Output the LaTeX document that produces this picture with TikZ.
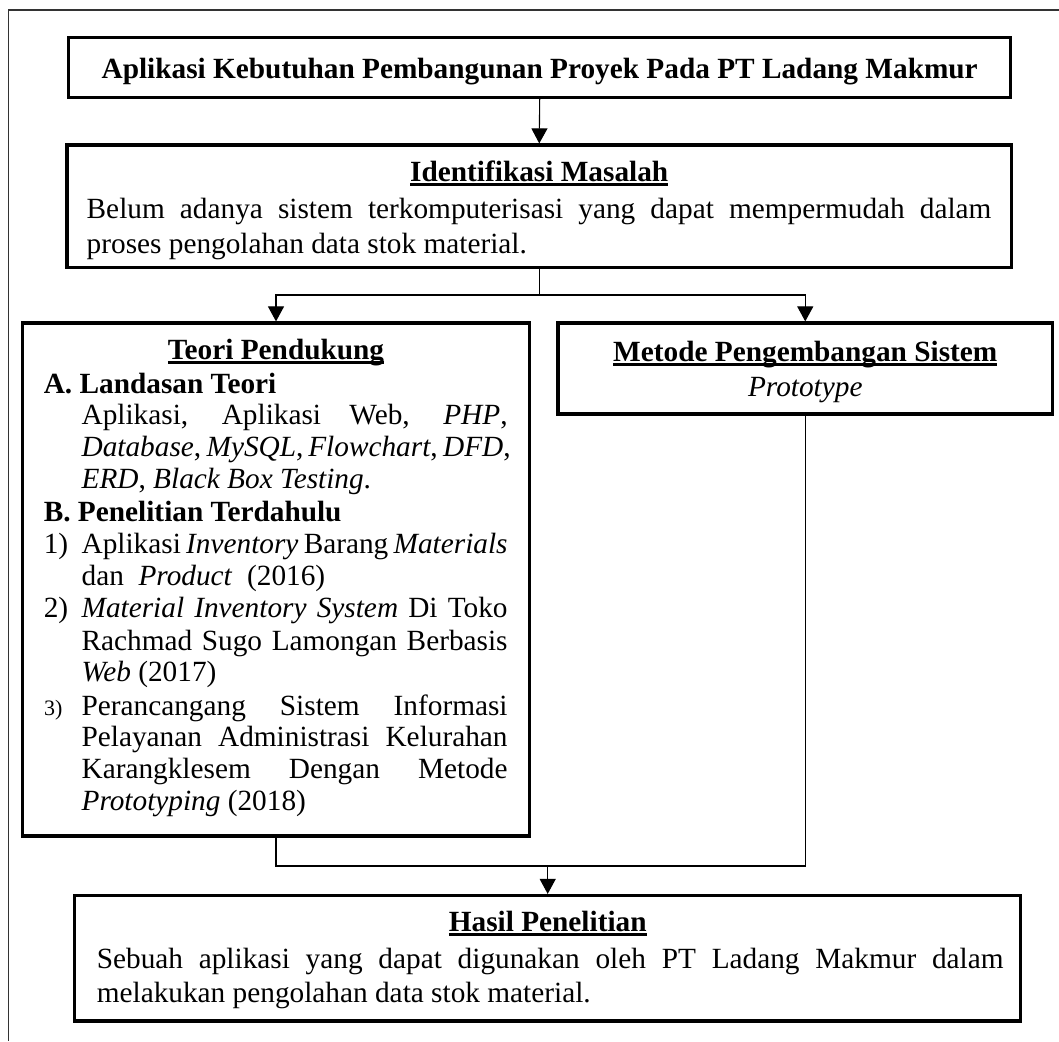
\documentclass[tikz,border=0pt]{standalone}
\usepackage{fontspec}
\setmainfont{Liberation Serif}
\usetikzlibrary{arrows.meta}

% heading underline: a thick rule just below the baseline
\newsavebox\ulbox
\newcommand\hul[1]{\sbox\ulbox{#1}\rlap{\vrule height -1.5pt depth 4pt width \wd\ulbox}\usebox\ulbox}
% one justified line of the given width
\newcommand\jline[2]{\makebox[#1][s]{#2}}

\begin{document}
\begin{tikzpicture}[x=1pt, y=-1pt,
  frameline/.style={draw=black!80, line width=1.6pt},
  boxn/.style={draw, line width=3.2pt, inner sep=0pt, rectangle},
  txt/.style={inner sep=0pt, anchor=base west, font=\fontsize{29.3}{32}\selectfont},
  ctr/.style={txt, anchor=base},
  small/.style={txt, font=\fontsize{22}{26}\selectfont},
  link/.style={line width=1.1pt},
  arr/.style={link, -{Triangle[length=15pt,width=16pt]}},
]
\useasboundingbox (0,0) rectangle (1059,1041);

% outer frame (open to the right and bottom)
\draw[frameline] (1059,10) -- (8.3,10) -- (8.3,1041);

% boxes
\node[boxn, minimum width=942pt, minimum height=59.6pt] (title) at (539.7,67.5) {};
\node[boxn, minimum width=944.5pt, minimum height=122.5pt] (ident) at (539.25,206.25) {};
\node[boxn, minimum width=507pt, minimum height=513pt] (teori) at (276,579.5) {};
\node[boxn, minimum width=494.5pt, minimum height=91pt] (metode) at (805.25,368.5) {};
\node[boxn, minimum width=946pt, minimum height=125.5pt] (hasil) at (547.7,958.25) {};

% title
\node[ctr] (titletxt) at (539.7,78) {\bfseries Aplikasi Kebutuhan Pembangunan Proyek Pada PT Ladang Makmur};

% problem identification
\node[ctr] (identhead) at (539.25,181.5) {\bfseries\hul{Identifikasi Masalah}};
\node[txt] (identl1) at (86.5,218) {\jline{904.7pt}{Belum adanya sistem terkomputerisasi yang dapat mempermudah dalam}};
\node[txt] (identl2) at (86.5,253) {proses pengolahan data stok material.};

% supporting theory
\node[ctr] (teorihead) at (276,359.5) {\bfseries\hul{Teori Pendukung}};
\node[txt] (secA) at (43.6,393) {\bfseries A. Landasan Teori};
\node[txt] (a1) at (81.4,424.5) {\jline{426pt}{Aplikasi, Aplikasi Web, \textit{PHP},}};
\node[txt] (a2) at (81.4,456.5) {\jline{426pt}{\textit{Database}, \textit{MySQL}, \textit{Flowchart}, \textit{DFD},}};
\node[txt] (a3) at (81.4,488.5) {\textit{ERD}, \textit{Black Box Testing}.};
\node[txt] (secB) at (43.6,521) {\bfseries B. Penelitian Terdahulu};
\node[txt] (n1) at (43.6,553.3) {1)};
\node[txt] (b1) at (81.4,553.3) {\jline{426pt}{Aplikasi \textit{Inventory} Barang \textit{Materials}}};
\node[txt] (b2) at (81.4,585.5) {dan\ \ \textit{Product}\ \ (2016)};
\node[txt] (n2) at (43.6,617.7) {2)};
\node[txt] (b3) at (81.4,617.7) {\jline{426pt}{\textit{Material Inventory System} Di Toko}};
\node[txt] (b4) at (81.4,650) {\jline{426pt}{Rachmad Sugo Lamongan Berbasis}};
\node[txt] (b5) at (81.4,681.7) {\textit{Web} (2017)};
\node[small] (n3) at (44,715) {3)};
\node[txt] (b6) at (81.4,715) {\jline{426pt}{Perancangang Sistem Informasi}};
\node[txt] (b7) at (81.4,746.7) {\jline{426pt}{Pelayanan Administrasi Kelurahan}};
\node[txt] (b8) at (81.4,778.3) {\jline{426pt}{Karangklesem Dengan Metode}};
\node[txt] (b9) at (81.4,810) {\textit{Prototyping} (2018)};

% development method
\node[ctr] (metodehead) at (805.25,361.7) {\bfseries\hul{Metode Pengembangan Sistem}};
\node[ctr] (metodetxt) at (805.25,396) {\itshape Prototype};

% research result
\node[ctr] (hasilhead) at (547.7,931.7) {\bfseries\hul{Hasil Penelitian}};
\node[txt] (hasill1) at (96.6,968.3) {\jline{906.8pt}{Sebuah aplikasi yang dapat digunakan oleh PT Ladang Makmur dalam}};
\node[txt] (hasill2) at (96.6,1002.7) {melakukan pengolahan data stok material.};

% connectors
\coordinate (split) at (539.25,295);
\coordinate (merge) at (547.7,866);
\draw[arr] (title.south) -- (ident.north);
\draw[link] (ident.south) -- (split);
\draw[arr] (split) -| (teori.north);
\draw[arr] (split) -| (metode.north);
\draw[link] (teori.south) |- (merge);
\draw[link] (metode.south) |- (merge);
\draw[arr] (merge) -- (hasil.north);
\end{tikzpicture}
\end{document}
